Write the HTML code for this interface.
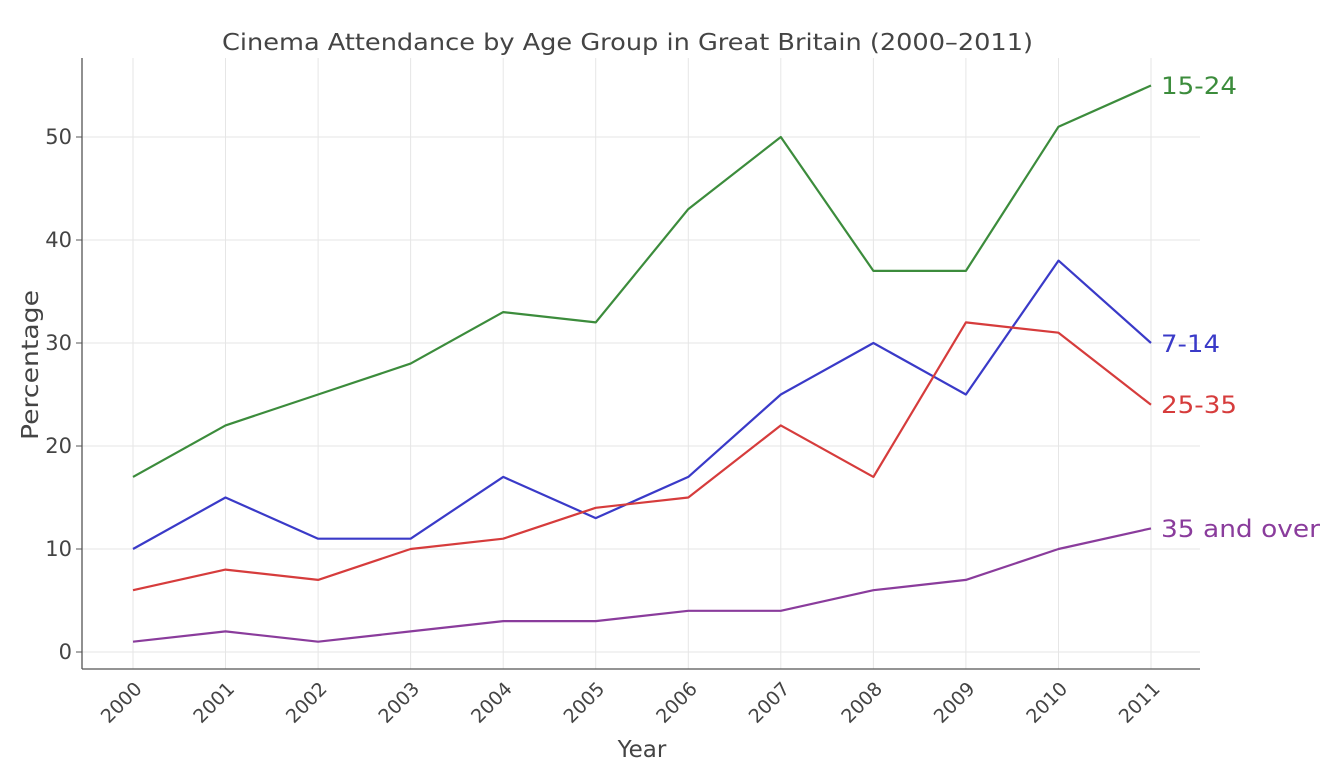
<!DOCTYPE html>
<html><head><meta charset="utf-8"><style>body{margin:0;background:#fff}svg{display:block}text{font-family:"DejaVu Sans","Liberation Sans",sans-serif;fill:#444}</style></head>
<body>
<svg width="1344" height="768" viewBox="0 0 1344 768" xmlns="http://www.w3.org/2000/svg">
<g stroke="#e6e6e6" stroke-width="1">
<line x1="82" y1="652" x2="1200" y2="652"/><line x1="82" y1="549" x2="1200" y2="549"/><line x1="82" y1="446" x2="1200" y2="446"/><line x1="82" y1="343" x2="1200" y2="343"/><line x1="82" y1="240" x2="1200" y2="240"/><line x1="82" y1="137" x2="1200" y2="137"/>
<line x1="133" y1="58" x2="133" y2="669"/><line x1="225.5" y1="58" x2="225.5" y2="669"/><line x1="318.1" y1="58" x2="318.1" y2="669"/><line x1="410.6" y1="58" x2="410.6" y2="669"/><line x1="503.2" y1="58" x2="503.2" y2="669"/><line x1="595.7" y1="58" x2="595.7" y2="669"/><line x1="688.3" y1="58" x2="688.3" y2="669"/><line x1="780.8" y1="58" x2="780.8" y2="669"/><line x1="873.4" y1="58" x2="873.4" y2="669"/><line x1="965.9" y1="58" x2="965.9" y2="669"/><line x1="1058.5" y1="58" x2="1058.5" y2="669"/><line x1="1151" y1="58" x2="1151" y2="669"/>
</g>
<g stroke="#555" stroke-width="1.3"><line x1="82" y1="58" x2="82" y2="669"/><line x1="82" y1="669" x2="1200" y2="669"/></g>
<g stroke="#555"><line x1="76" y1="652" x2="82" y2="652"/><line x1="76" y1="549" x2="82" y2="549"/><line x1="76" y1="446" x2="82" y2="446"/><line x1="76" y1="343" x2="82" y2="343"/><line x1="76" y1="240" x2="82" y2="240"/><line x1="76" y1="137" x2="82" y2="137"/></g>
<g font-size="21" text-anchor="end"><text x="72" y="659">0</text><text x="72" y="556">10</text><text x="72" y="453">20</text><text x="72" y="350">30</text><text x="72" y="247">40</text><text x="72" y="144">50</text></g>
<g font-size="19" text-anchor="end">
<text transform="translate(143,690) rotate(-45)">2000</text><text transform="translate(235.5,690) rotate(-45)">2001</text><text transform="translate(328.1,690) rotate(-45)">2002</text><text transform="translate(420.6,690) rotate(-45)">2003</text><text transform="translate(513.2,690) rotate(-45)">2004</text><text transform="translate(605.7,690) rotate(-45)">2005</text><text transform="translate(698.3,690) rotate(-45)">2006</text><text transform="translate(790.8,690) rotate(-45)">2007</text><text transform="translate(883.4,690) rotate(-45)">2008</text><text transform="translate(975.9,690) rotate(-45)">2009</text><text transform="translate(1068.5,690) rotate(-45)">2010</text><text transform="translate(1161,690) rotate(-45)">2011</text>
</g>
<text x="642" y="757" font-size="23" text-anchor="middle">Year</text>
<text transform="translate(38,365) rotate(-90)" font-size="23" text-anchor="middle" textLength="150" lengthAdjust="spacingAndGlyphs">Percentage</text>
<text x="222" y="50" font-size="23" textLength="811" lengthAdjust="spacingAndGlyphs">Cinema Attendance by Age Group in Great Britain (2000–2011)</text>
<g fill="none" stroke-width="2.2" stroke-linejoin="round">
<polyline stroke="#3c8c3c" points="133,476.9 225.5,425.4 318.1,394.5 410.6,363.6 503.2,312.1 595.7,322.4 688.3,209.1 780.8,137 873.4,270.9 965.9,270.9 1058.5,126.7 1151,85.5"/>
<polyline stroke="#3a3ac8" points="133,549 225.5,497.5 318.1,538.7 410.6,538.7 503.2,476.9 595.7,518.1 688.3,476.9 780.8,394.5 873.4,343 965.9,394.5 1058.5,260.6 1151,343"/>
<polyline stroke="#d63c3c" points="133,590.2 225.5,569.6 318.1,579.9 410.6,549 503.2,538.7 595.7,507.8 688.3,497.5 780.8,425.4 873.4,476.9 965.9,322.4 1058.5,332.7 1151,404.8"/>
<polyline stroke="#8a3c9c" points="133,641.7 225.5,631.4 318.1,641.7 410.6,631.4 503.2,621.1 595.7,621.1 688.3,610.8 780.8,610.8 873.4,590.2 965.9,579.9 1058.5,549 1151,528.4"/>
</g>
<g font-size="24">
<text x="1161" y="94" style="fill:#3c8c3c" textLength="76" lengthAdjust="spacingAndGlyphs">15-24</text>
<text x="1161" y="352" style="fill:#3a3ac8" textLength="59" lengthAdjust="spacingAndGlyphs">7-14</text>
<text x="1161" y="413" style="fill:#d63c3c" textLength="76" lengthAdjust="spacingAndGlyphs">25-35</text>
<text x="1161" y="537" style="fill:#8a3c9c" textLength="159" lengthAdjust="spacingAndGlyphs">35 and over</text>
</g>
</svg>
</body></html>
